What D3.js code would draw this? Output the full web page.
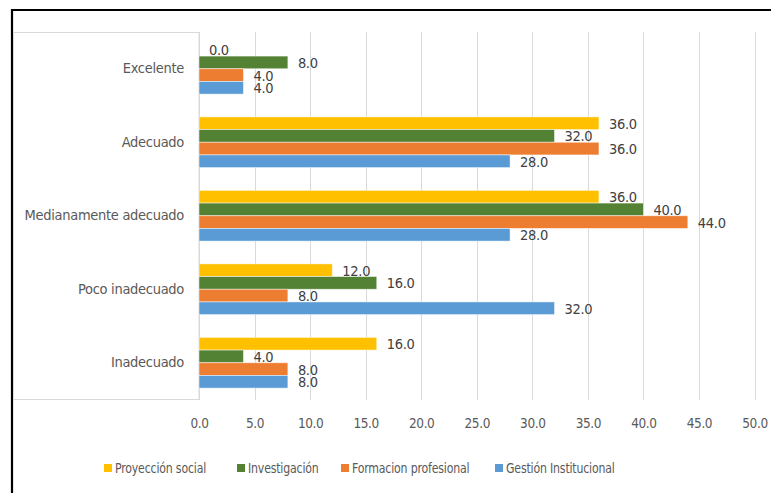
<!DOCTYPE html>
<html>
<head>
<meta charset="utf-8">
<script src="https://cdn.jsdelivr.net/npm/d3@7"></script>
<style>
  body { margin: 0; background: #fff; }
  text { font-family: "DejaVu Sans Condensed", "Liberation Sans", sans-serif; }
</style>
</head>
<body>
<script>
const w = 771;
const h = 493;

// data
const categories = ["Excelente", "Adecuado", "Medianamente adecuado", "Poco inadecuado", "Inadecuado"];
const seriesNames = ["Proyección social", "Investigación", "Formacion profesional", "Gestión Institucional"];
const proyeccion = [0, 36, 36, 12, 16];
const investigacion = [8, 32, 40, 16, 4];
const formacion = [4, 36, 44, 8, 8];
const gestion = [4, 28, 28, 32, 8];
const xTicks = [0, 5, 10, 15, 20, 25, 30, 35, 40, 45, 50];
const colors = ["#FFC000", "#548235", "#ED7D31", "#5B9BD5"];

const seriesValues = [proyeccion, investigacion, formacion, gestion];
const fontFam = "'DejaVu Sans Condensed', 'Liberation Sans', sans-serif";

var svg = d3.select("body")
  .append("svg")
  .attr("width", w)
  .attr("height", h);

// outer frame (black, cut off at right and bottom)
svg.append("path")
  .attr("d", "M12,494 L12,10 L772,10")
  .attr("fill", "none")
  .attr("stroke", "#000")
  .attr("stroke-width", 2.2);

// light box around the category labels
svg.append("rect")
  .attr("x", 13.5).attr("y", 32.5)
  .attr("width", 185.5).attr("height", 367)
  .attr("fill", "none")
  .attr("stroke", "#d9d9d9");

var x = d3.scaleLinear()
  .domain([0, 50])
  .range([199, 754.5]);

var y = d3.scaleBand()
  .domain(categories)
  .range([32, 399.5])
  .paddingInner(0.31)
  .paddingOuter(0.155);

var ySub = d3.scaleBand()
  .domain(seriesNames)
  .range([0, y.bandwidth()]);

// gridlines
svg.append("g")
  .selectAll("line")
  .data(xTicks)
  .enter()
  .append("line")
  .attr("x1", d => Math.round(x(d)) + 0.5)
  .attr("x2", d => Math.round(x(d)) + 0.5)
  .attr("y1", 32)
  .attr("y2", 400)
  .attr("stroke", "#d9d9d9")
  .attr("stroke-width", 1);

// x tick labels
var xAxis = svg.append("g")
  .attr("transform", "translate(0,400)")
  .call(d3.axisBottom(x).tickValues(xTicks).tickFormat(d3.format(".1f")).tickSize(0).tickPadding(18));
xAxis.select(".domain").remove();
xAxis.selectAll("text")
  .attr("font-size", "13.5px")
  .attr("fill", "#595959")
  .attr("letter-spacing", "-0.4px")
  .style("font-family", fontFam);

// category labels
var yAxis = svg.append("g")
  .attr("transform", "translate(199,0)")
  .call(d3.axisLeft(y).tickSize(0).tickPadding(15));
yAxis.select(".domain").remove();
yAxis.selectAll("text")
  .attr("font-size", "14.5px")
  .attr("fill", "#595959")
  .attr("letter-spacing", "-0.3px")
  .style("font-family", fontFam);

// bars
var rows = [];
seriesNames.forEach(function(s, j) {
  categories.forEach(function(c, i) {
    rows.push({ series: s, cat: c, value: seriesValues[j][i], color: colors[j] });
  });
});

var groupBars = svg.append("g");
groupBars.selectAll("rect")
  .data(rows)
  .enter()
  .append("rect")
  .attr("x", x(0))
  .attr("y", d => y(d.cat) + ySub(d.series))
  .attr("width", d => x(d.value) - x(0))
  .attr("height", ySub.bandwidth())
  .attr("fill", d => d.color)
  .attr("stroke", d => d.value > 0 ? "rgba(255,255,255,0.6)" : "none")
  .attr("stroke-width", 0.8);

// value labels
groupBars.selectAll("text")
  .data(rows)
  .enter()
  .append("text")
  .attr("x", d => x(d.value) + 10)
  .attr("y", d => y(d.cat) + ySub(d.series) + ySub.bandwidth() / 2)
  .attr("dy", "0.38em")
  .attr("font-size", "14.5px")
  .attr("letter-spacing", "-0.3px")
  .attr("fill", "#404040")
  .text(d => d.value.toFixed(1));

// legend
var legendX = [104, 237, 341, 495];
var legend = svg.append("g")
  .selectAll("g")
  .data(seriesNames)
  .enter()
  .append("g")
  .attr("transform", (d, i) => "translate(" + legendX[i] + ",468)");
legend.append("rect")
  .attr("x", 0).attr("y", -4)
  .attr("width", 8).attr("height", 8)
  .attr("fill", (d, i) => colors[i]);
legend.append("text")
  .attr("transform", "translate(11,0) scale(0.84,1)")
  .attr("dy", "0.36em")
  .attr("font-size", "14.5px")
  .attr("letter-spacing", "-0.2px")
  .attr("fill", "#595959")
  .text(d => d);
</script>
</body>
</html>
